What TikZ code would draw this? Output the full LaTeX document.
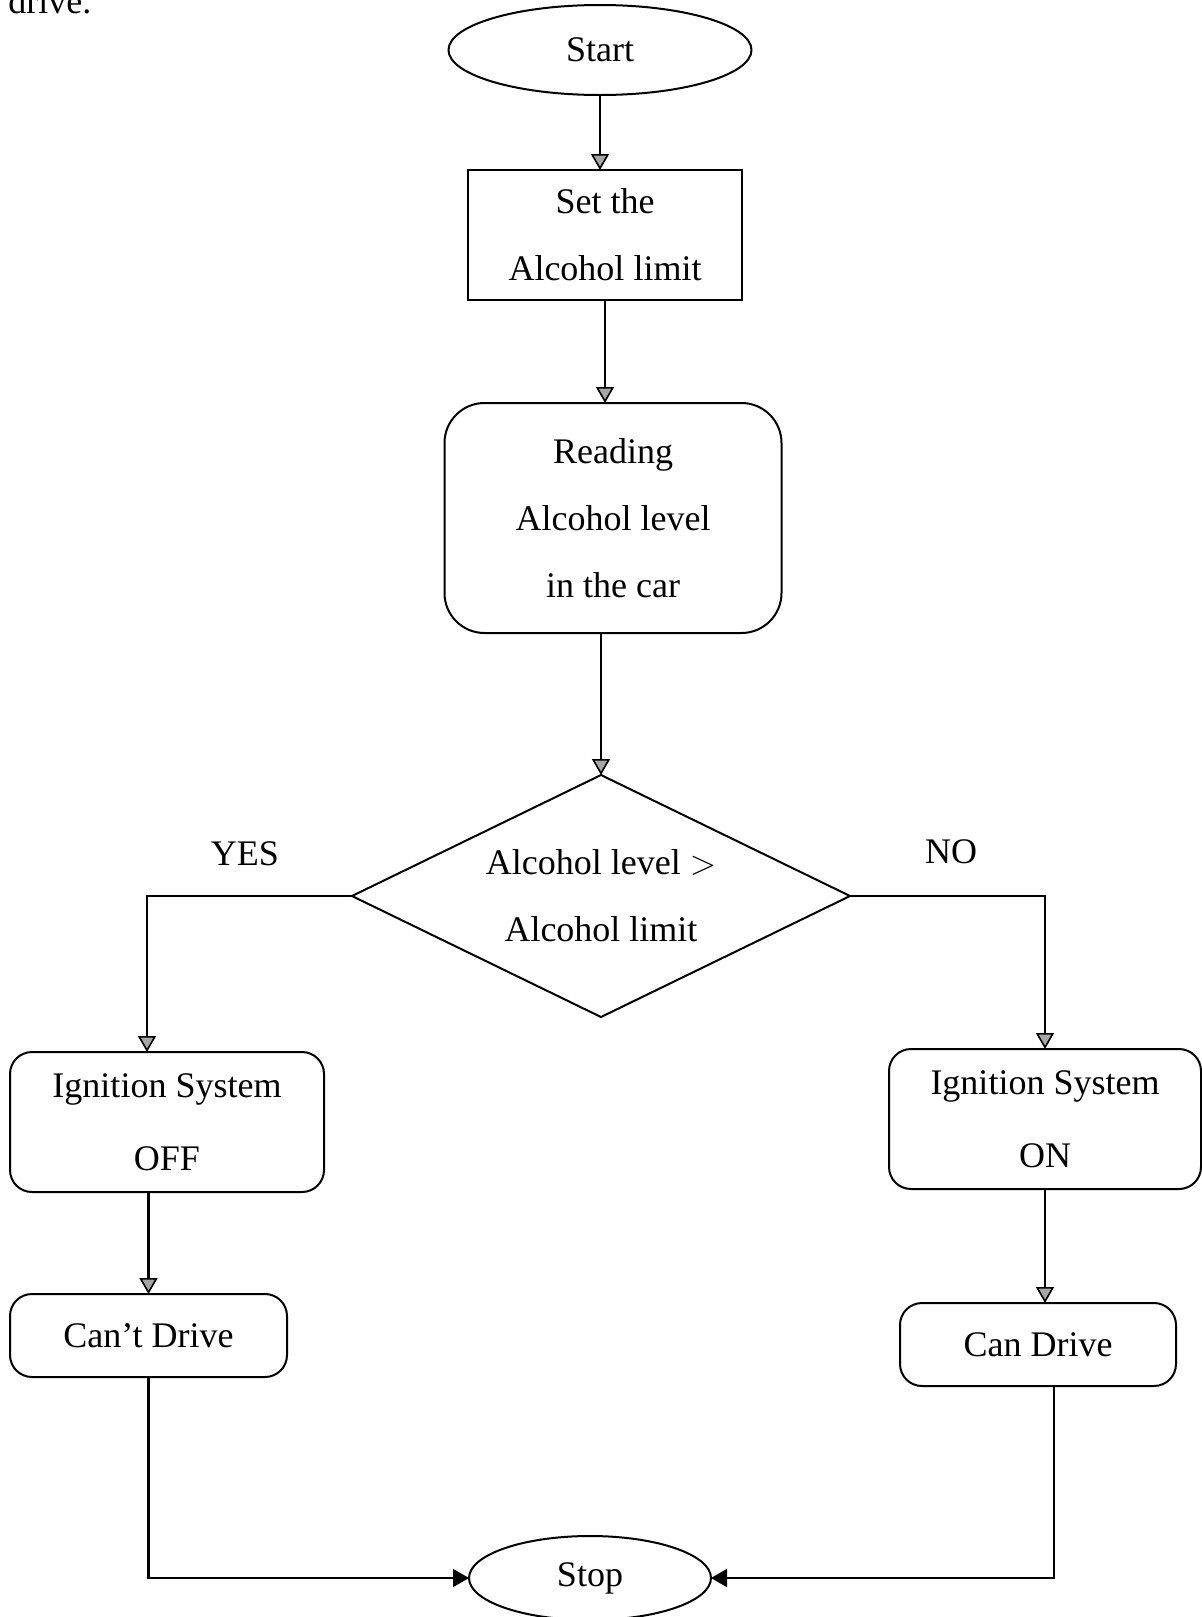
\documentclass[tikz,border=0pt]{standalone}
\usepackage{fontspec}
\setmainfont{Liberation Serif}
\usetikzlibrary{shapes.geometric,arrows.meta}
\tikzset{
  base/.style={draw, line width=1pt, inner sep=0pt, outer sep=0pt, align=center,
    font=\fontsize{18}{33.5}\selectfont},
  term/.style={base, ellipse},
  sqbox/.style={base, rectangle},
  rbox/.style={base, rectangle, rounded corners=11pt},
  bigrbox/.style={base, rectangle, rounded corners=20pt},
  decide/.style={base, diamond, aspect=2.06},
  lbl/.style={font=\fontsize{18}{20}\selectfont, inner sep=0pt},
  arr/.style={line width=1.1pt, -{Triangle[length=8pt,width=9pt,fill=gray!70,line width=0.8pt]}},
  arrb/.style={line width=1.3pt, -{Triangle[length=8pt,width=9pt,fill=black,line width=0.8pt]}}
}
\begin{document}
\begin{tikzpicture}[x=0.5pt,y=-0.5pt]
\useasboundingbox (0,0) rectangle (1202,1617);
\node[lbl, anchor=base west] (drv) at (8,13) {drive.};
\node[term, minimum width=151.5pt, minimum height=45pt] (start) at (600,50) {Start};
\node[sqbox, minimum width=137pt, minimum height=65pt] (set) at (605,235) {Set the\\Alcohol limit};
\node[bigrbox, minimum width=168.5pt, minimum height=115pt] (read) at (613,518) {Reading\\Alcohol level\\in the car};
\node[decide, minimum width=249pt, minimum height=121pt] (dec) at (601,896) {Alcohol level $>$\\Alcohol limit};
\node[rbox, minimum width=157pt, minimum height=70pt] (off) at (167,1122) {Ignition System\\[3pt]OFF};
\node[rbox, minimum width=138.5pt, minimum height=41.5pt] (cant) at (148.5,1335.5) {Can’t Drive};
\node[rbox, minimum width=156pt, minimum height=70pt] (on) at (1045,1119) {Ignition System\\[3pt]ON};
\node[rbox, minimum width=138pt, minimum height=41.5pt] (can) at (1038,1344.5) {Can Drive};
\node[term, minimum width=121pt, minimum height=42pt] (stop) at (590,1578) {Stop};
\node[lbl] (yes) at (245,854) {YES};
\node[lbl] (no) at (951,852) {NO};
\draw[arr] (start.south) -- (start.south |- set.north);
\draw[arr] (set.south) -- (set.south |- read.north);
\draw[arr] (read.south -| dec.north) -- (dec.north);
\draw[arr] (dec.west) -| ([xshift=-10pt]off.north);
\draw[arr] (cant.north |- off.south) -- (cant.north);
\draw[arrb] (cant.south) |- (stop.west);
\draw[arr] (dec.east) -| (on.north);
\draw[arr] (on.south) -- (on.south |- can.north);
\draw[arrb] ([xshift=8pt]can.south) |- (stop.east);
\end{tikzpicture}
\end{document}
